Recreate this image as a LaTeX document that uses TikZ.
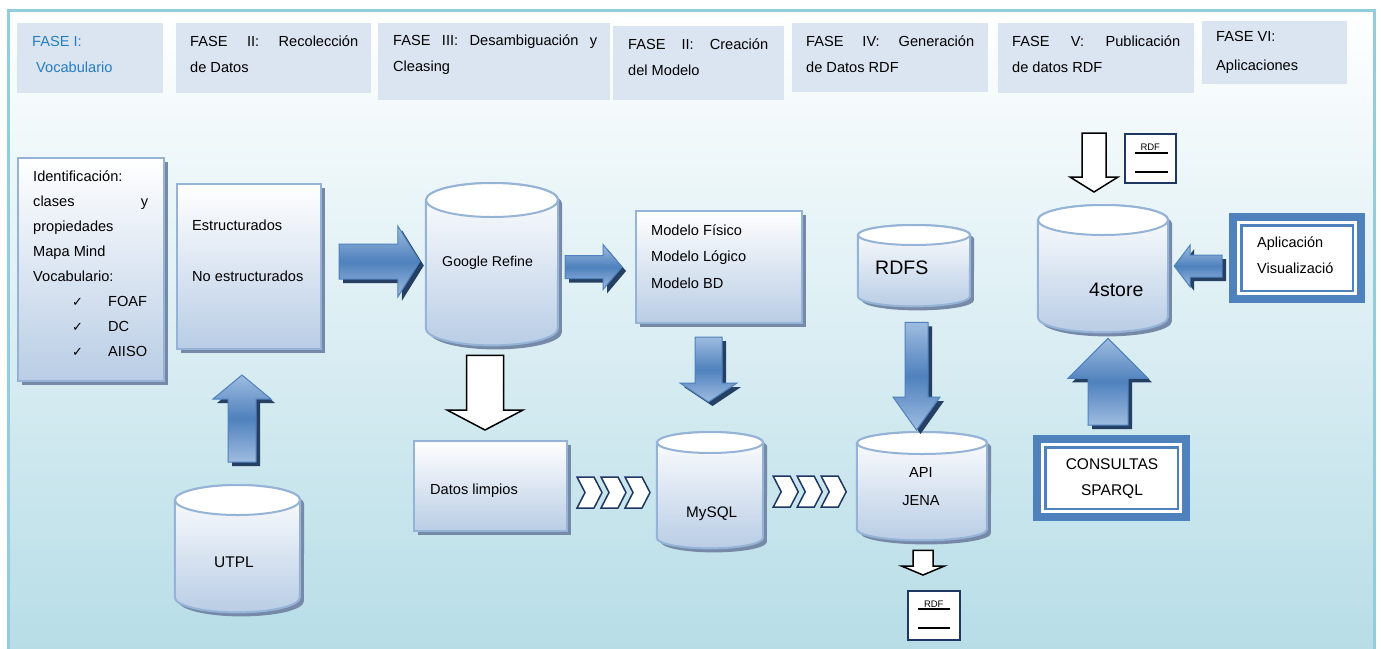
\documentclass[tikz,border=0pt]{standalone}
\usepackage{fontspec}
\setmainfont{Liberation Sans}
\newfontfamily\symfont{DejaVu Sans}
\usetikzlibrary{shadows,calc}

\definecolor{phasebg}{RGB}{219,229,241}
\definecolor{phaseblue}{RGB}{36,126,198}
\definecolor{boxline}{RGB}{149,179,215}
\definecolor{boxfill}{RGB}{185,205,229}
\definecolor{shadowgray}{RGB}{118,138,168}
\definecolor{arrowblue}{RGB}{79,129,189}
\definecolor{arrowlight}{RGB}{158,188,224}
\definecolor{arrowdark}{RGB}{38,64,100}
\definecolor{navy}{RGB}{31,56,99}
\definecolor{framecol}{RGB}{146,205,221}
\definecolor{bgblue}{RGB}{183,221,231}

\newcommand\chk{{\symfont\fontsize{13}{14}\selectfont ✓}}
% block arrow: style, from, to, half shaft, half head, head length
\newcommand\fatarrow[6]{%
  \path[#1] let \p1=#2, \p2=#3,
    \n1={atan2(\y2-\y1,\x2-\x1)}, \n2={veclen(\x2-\x1,\y2-\y1)} in
    [shift={(\p1)}, rotate=\n1]
    (0pt,-#4pt) -- ({\n2-#6pt},-#4pt) -- ({\n2-#6pt},-#5pt) -- ({\n2+0pt},0pt)
    -- ({\n2-#6pt},#5pt) -- ({\n2-#6pt},#4pt) -- (0pt,#4pt) -- cycle;}
% database drum round a named node: node, x radius, y radius
\newcommand\dbdraw[3]{%
  \path[dbbody] ([yshift=-#3pt]#1.north west) -- ([yshift=#3pt]#1.south west)
    arc[start angle=180, end angle=360, x radius=#2pt, y radius=#3pt]
    -- ([yshift=-#3pt]#1.north east)
    arc[start angle=0, end angle=180, x radius=#2pt, y radius=#3pt] -- cycle;
  \path[dbtop] ([yshift=-#3pt]#1.north) ellipse [x radius=#2pt, y radius=#3pt];}

\begin{document}
\begin{tikzpicture}[x=1pt,y=-1pt]
\tikzstyle{every node}=[inner sep=0pt, font=\fontsize{14.6}{26}\selectfont]
\tikzstyle{phase}=[rectangle, anchor=north west, fill=phasebg]
\tikzstyle{txt}=[anchor=west, align=left]
\tikzstyle{box}=[rectangle, anchor=north west, draw=boxline, line width=2pt, top color=white, bottom color=boxfill,
  drop shadow={shadow xshift=4pt, shadow yshift=-4pt, fill=shadowgray, opacity=1}]
\tikzstyle{db}=[rectangle, anchor=north]
\tikzstyle{dbbody}=[draw=boxline, line width=2pt, top color=white, bottom color=boxfill,
  drop shadow={shadow xshift=4pt, shadow yshift=-4pt, fill=shadowgray, opacity=1}]
\tikzstyle{dbtop}=[draw=boxline, line width=2pt, fill=white]
\tikzstyle{blue arrow}=[draw=arrowblue, line width=1pt, top color=arrowlight, bottom color=arrowlight, middle color=arrowblue,
  drop shadow={shadow xshift=4pt, shadow yshift=-4pt, fill=arrowdark, opacity=1}]
\tikzstyle{hollow arrow}=[draw=black, line width=1.5pt, fill=white]
\tikzstyle{chev}=[draw=navy, line width=1.5pt, fill=white]
\tikzstyle{doc}=[rectangle, anchor=north west, draw=navy, line width=1.5pt, fill=white]
\tikzstyle{panel}=[rectangle, anchor=north west, draw=arrowblue, line width=8pt, fill=white]

\useasboundingbox (0,0) rectangle (1381,648);
\fill[white] (0,0) rectangle (1381,648);
\draw[draw=framecol, line width=3pt, top color=white, bottom color=bgblue] (8,10) rectangle (1374,651);

% phases
\draw (17,23) node (h1) [phase, minimum width=146pt, minimum height=70pt] {};
\draw (176,23) node (h2) [phase, minimum width=195pt, minimum height=70pt] {};
\draw (378,23) node (h3) [phase, minimum width=232pt, minimum height=77pt] {};
\draw (613,26) node (h4) [phase, minimum width=171pt, minimum height=74pt] {};
\draw (792,23) node (h5) [phase, minimum width=196pt, minimum height=69pt] {};
\draw (998,23) node (h6) [phase, minimum width=196pt, minimum height=70pt] {};
\draw (1202,21) node (h7) [phase, minimum width=145pt, minimum height=63pt] {};
\draw (32,54) node (h1t) [txt, text=phaseblue] {FASE I:\\\hspace*{4pt}Vocabulario};
\draw (190,54) node (h2t) [txt] {\makebox[168pt][s]{FASE II: Recolección}\\de Datos};
\draw (393,54.5) node (h3t) [txt] {\makebox[204pt][s]{FASE III: Desambiguación y}\\Cleasing};
\draw (628,57) node (h4t) [txt] {\makebox[140pt][s]{FASE II: Creación}\\del Modelo};
\draw (806,54) node (h5t) [txt] {\makebox[168pt][s]{FASE IV: Generación}\\de Datos RDF};
\draw (1012,54) node (h6t) [txt] {\makebox[168pt][s]{FASE V: Publicación}\\de datos RDF};
\draw (1216,52.5) node (h7t) [txt, font=\fontsize{14.6}{29}\selectfont] {FASE VI:\\Aplicaciones};

% boxes
\draw (17,157) node (voc) [box, minimum width=146pt, minimum height=223pt] {};
\draw (176,183) node (est) [box, minimum width=144pt, minimum height=165pt] {};
\draw (635,210) node (modelo) [box, minimum width=166pt, minimum height=112pt] {};
\draw (413,440) node (datos) [box, minimum width=153pt, minimum height=90pt] {};
\draw (33,263.5) node (voct) [txt, font=\fontsize{14.6}{25}\selectfont] {Identificación:\\
  \makebox[115pt][s]{clases y}\\propiedades\\Mapa Mind\\Vocabulario:\\
  \hspace*{39pt}\makebox[36pt][l]{\chk}FOAF\\
  \hspace*{39pt}\makebox[36pt][l]{\chk}DC\\
  \hspace*{39pt}\makebox[36pt][l]{\chk}AIISO};
\draw (192,250.5) node (estt) [txt] {Estructurados\\[25pt]No estructurados};
\draw (651,256.5) node (modelot) [txt, font=\fontsize{14.6}{26.5}\selectfont] {Modelo Físico\\Modelo Lógico\\Modelo BD};
\draw (430,491) node (datost) [txt] {Datos limpios};

% databases
\draw (492,183) node (grefine) [db, minimum width=132pt, minimum height=162pt] {};
\draw (1103,205) node (store) [db, minimum width=130pt, minimum height=127pt] {};
\draw (914,225) node (rdfs) [db, minimum width=112pt, minimum height=81pt] {};
\draw (710,432) node (mysql) [db, minimum width=106pt, minimum height=116pt] {};
\draw (922,432) node (api) [db, minimum width=130pt, minimum height=108pt] {};
\draw (237.5,485) node (utpl) [db, minimum width=125pt, minimum height=127pt] {};
\dbdraw{grefine}{66}{17}
\dbdraw{store}{65}{15}
\dbdraw{rdfs}{56}{10}
\dbdraw{mysql}{53}{10.5}
\dbdraw{api}{65}{11}
\dbdraw{utpl}{62.5}{15}
\draw (442,263) node (grefinet) [txt, font=\fontsize{14.2}{17}\selectfont] {Google Refine};
\draw (1089,290) node (storet) [txt, font=\fontsize{19.5}{22}\selectfont] {4store};
\draw (875,268) node (rdfst) [txt, font=\fontsize{19.5}{22}\selectfont] {RDFS};
\draw (686,514) node (mysqlt) [txt, font=\fontsize{15.3}{18}\selectfont] {MySQL};
\draw (921,487) node (apit) [align=center, font=\fontsize{14.6}{28}\selectfont] {API\\JENA};
\draw (214,562) node (utplt) [txt, font=\fontsize{15.5}{18}\selectfont] {UTPL};

% applications
\draw (1229,213) node (appv) [panel, minimum width=128pt, minimum height=82pt] {};
\draw (1033,435) node (sparql) [panel, minimum width=149pt, minimum height=78pt] {};
\draw[arrowblue, line width=2.5pt] ([shift={(12.25,12.25)}]appv.north west) rectangle ([shift={(-12.25,-12.25)}]appv.south east);
\draw[arrowblue, line width=2.5pt] ([shift={(12.25,12.25)}]sparql.north west) rectangle ([shift={(-12.25,-12.25)}]sparql.south east);
\draw (1257,255) node (appvt) [txt, font=\fontsize{14.5}{26}\selectfont] {Aplicación\\Visualizació};
\draw (1112,479) node (sparqlt) [align=center, font=\fontsize{15.5}{26}\selectfont] {CONSULTAS\\SPARQL};

% rdf documents
\draw (1124,133) node (rdf1) [doc, minimum width=51pt, minimum height=49pt] {};
\draw (907,590) node (rdf2) [doc, minimum width=52pt, minimum height=49pt] {};
\draw (rdf1.north) ++(0,14) node (rdf1t) [font=\fontsize{9.5}{11}\selectfont] {RDF};
\draw (rdf2.north) ++(0,14) node (rdf2t) [font=\fontsize{9.5}{11}\selectfont] {RDF};
\draw[line width=1.2pt] ([shift={(11,20)}]rdf1.north west) -- ([shift={(-9,20)}]rdf1.north east);
\draw[line width=1.2pt] ([shift={(11,39)}]rdf1.north west) -- ([shift={(-9,39)}]rdf1.north east);
\draw[line width=1.2pt] ([shift={(11,19)}]rdf2.north west) -- ([shift={(-11,19)}]rdf2.north east);
\draw[line width=1.2pt] ([shift={(11,38)}]rdf2.north west) -- ([shift={(-11,38)}]rdf2.north east);
\coordinate (pub) at (1094,133);

% connectors
\fatarrow{blue arrow}{($(est.east)+(17,-5)$)}{($(grefine.west |- est.east)+(-6,-5)$)}{17.5}{35.5}{22}
\fatarrow{blue arrow}{($(grefine.east |- modelo.west)+(7,0)$)}{($(modelo.west)+(-13,0)$)}{11.5}{22.5}{19}
\fatarrow{blue arrow}{($(mysql.north |- modelo.south)+(-1.5,13)$)}{($(mysql.north)+(-1.5,-30)$)}{13.5}{28.5}{19}
\fatarrow{blue arrow}{($(rdfs.south)+(2.5,16)$)}{($(rdfs.south |- api.north)+(2.5,-2)$)}{11.5}{23.5}{33}
\fatarrow{blue arrow}{($(utpl.north)+(4.5,-23)$)}{($(utpl.north |- est.south)+(4.5,25)$)}{14}{29}{24}
\fatarrow{blue arrow}{($(appv.west)+(-7,8)$)}{($(store.east |- appv.west)+(6,8)$)}{11}{21}{16}
\fatarrow{blue arrow}{($(sparql.north)+(-3.5,-10)$)}{($(sparql.north |- store.south)+(-3.5,6)$)}{20}{40}{40}
\fatarrow{hollow arrow}{($(grefine.south)+(-7,10)$)}{($(grefine.south |- datos.north)+(-7,-10)$)}{18.5}{38}{20}
\fatarrow{hollow arrow}{($(api.south)+(1,10)$)}{($(api.south |- rdf2.north)+(1,-15)$)}{10}{21.5}{9}
\fatarrow{hollow arrow}{(pub)}{($(pub |- store.north)+(0,-13)$)}{12}{24}{15}
\foreach \i in {0,1,2} {
  \draw[chev] ($(datos.east)+(9+24*\i,6.5)$) ++(0,-15.5) -- ++(17,0) -- ++(8,15.5) -- ++(-8,15.5) -- ++(-17,0) -- ++(8,-15.5) -- cycle;
  \draw[chev] ($(mysql.east)+(10+24*\i,1.5)$) ++(0,-15.5) -- ++(17,0) -- ++(8,15.5) -- ++(-8,15.5) -- ++(-17,0) -- ++(8,-15.5) -- cycle;
}
\end{tikzpicture}
\end{document}
